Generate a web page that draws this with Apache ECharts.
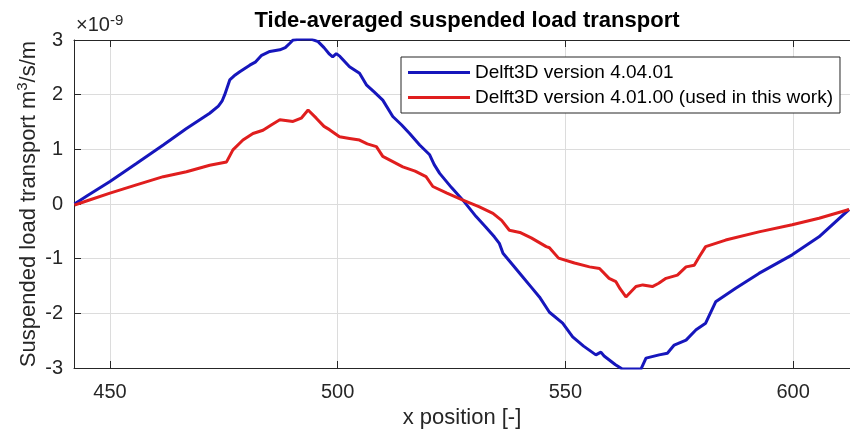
<!DOCTYPE html>
<html>
<head>
<meta charset="utf-8">
<script src="https://cdn.jsdelivr.net/npm/echarts@6/dist/echarts.min.js"></script>
<style>
  html, body { margin: 0; padding: 0; background: #ffffff; }
  #chart { width: 850px; height: 434px; }
</style>
</head>
<body>
<div id="chart"></div>
<script>
// Tide-averaged suspended load transport (values in units of 1e-9 m^3/s/m)
const seriesNames = ['Delft3D version 4.04.01', 'Delft3D version 4.01.00 (used in this work)'];

// Delft3D 4.04.01
const blueX = [442.2, 445, 450, 455.8, 461.7, 466.8, 471.9, 473.8, 474.6, 475.2, 476.3, 477.5, 478.5, 480.7, 482, 483.3,
  485.1, 487.3, 488.5, 489.5, 490.2, 492, 494, 495.7, 497, 498.2, 498.9, 499.7, 500.5, 502.6, 504.8, 506.3, 508, 509.9,
  512.1, 514, 515.8, 518, 520.2, 521.2, 522.4, 525, 527.5, 530.4, 532.5, 534.4, 535.5, 536.3, 538.5, 540.6, 542.5, 544.3,
  546.5, 549.4, 551.6, 554, 556.7, 557.8, 558.5, 561.0, 562.5, 566.6, 567.7, 570.6, 572.4, 573.9, 576.5, 578.7, 580.8,
  583.0, 587.4, 592.5, 599.8, 605.7, 612.3];
const blueY = [0.0, 0.15, 0.41, 0.74, 1.08, 1.38, 1.66, 1.79, 1.88, 2.0, 2.27, 2.36, 2.42, 2.54, 2.60, 2.72,
  2.79, 2.82, 2.86, 2.94, 3.0, 3.02, 3.02, 2.97, 2.86, 2.74, 2.69, 2.75, 2.70, 2.51, 2.39, 2.18, 2.05, 1.90,
  1.60, 1.45, 1.29, 1.08, 0.90, 0.72, 0.56, 0.30, 0.07, -0.23, -0.42, -0.60, -0.72, -0.90, -1.12, -1.33, -1.52, -1.70,
  -1.98, -2.18, -2.43, -2.60, -2.76, -2.71, -2.78, -2.94, -3.02, -3.02, -2.82, -2.76, -2.73, -2.58, -2.49, -2.30, -2.18,
  -1.79, -1.54, -1.27, -0.93, -0.60, -0.10];

// Delft3D 4.01.00
const redX = [442.2, 445, 450, 455.8, 461.7, 466.8, 471.9, 475.6, 477.0, 479.2, 481.4, 483.6, 485.5, 487.3, 490.2, 492.0,
  493.5, 495.3, 497, 498.2, 500.4, 502.6, 504.8, 506.5, 508.5, 509.9, 512, 514.3, 517, 519.4, 520.9, 524, 527.5, 531,
  534.1, 536, 537.7, 540, 542.5, 545.8, 546.5, 548.5, 552, 555.3, 557.5, 559.6, 561.1, 562, 563.3, 565.5, 567, 569.1,
  570.5, 572.1, 574.6, 576.5, 578.3, 579.5, 580.8, 585.2, 592.5, 599.8, 605.7, 612.3];
const redY = [-0.02, 0.06, 0.20, 0.35, 0.50, 0.59, 0.71, 0.77, 0.99, 1.17, 1.29, 1.35, 1.45, 1.54, 1.51, 1.57,
  1.72, 1.57, 1.42, 1.36, 1.23, 1.20, 1.17, 1.10, 1.05, 0.87, 0.78, 0.68, 0.60, 0.50, 0.32, 0.20, 0.07, -0.05,
  -0.17, -0.30, -0.48, -0.52, -0.62, -0.78, -0.80, -0.99, -1.08, -1.15, -1.18, -1.36, -1.42, -1.55, -1.70, -1.51, -1.48, -1.51,
  -1.45, -1.36, -1.30, -1.15, -1.12, -0.95, -0.78, -0.66, -0.51, -0.38, -0.26, -0.10];

const xMin = 442.1, xMax = 612.5;
const yTicks = [-3, -2, -1, 0, 1, 2, 3];

const pair = (xs, ys) => xs.map((x, i) => [x, ys[i]]);

const ink = '#262626';
const font = '"Liberation Sans", Arial, Helvetica, sans-serif';

const chart = echarts.init(document.getElementById('chart'), null, { renderer: 'canvas' });

chart.setOption({
  animation: false,
  backgroundColor: '#ffffff',
  textStyle: { fontFamily: font, color: ink },
  title: {
    text: 'Tide-averaged suspended load transport',
    left: 462, top: 5, textAlign: 'center',
    textStyle: { fontFamily: font, fontSize: 22, fontWeight: 'bold', color: '#000000' }
  },
  legend: {
    left: 401, top: 57,
    orient: 'vertical',
    icon: 'rect', itemWidth: 62, itemHeight: 3, itemGap: 6,
    padding: [6, 7, 6, 7],
    backgroundColor: '#ffffff', borderColor: ink, borderWidth: 1,
    textStyle: { fontFamily: font, fontSize: 19, color: '#000000' },
    data: seriesNames
  },
  grid: { left: 74, right: 0, top: 40, bottom: 66, containLabel: false },
  xAxis: [{
    type: 'value', min: xMin, max: xMax, splitNumber: 4,
    name: 'x position [-]', nameLocation: 'middle', nameGap: 39, nameMoveOverlap: false,
    nameTextStyle: { fontFamily: font, fontSize: 22, color: ink },
    axisLine: { show: true, onZero: false, lineStyle: { color: ink, width: 1 } },
    axisTick: { show: true, inside: true, length: 7, lineStyle: { color: ink } },
    axisLabel: { showMinLabel: false, showMaxLabel: false, margin: 14, fontFamily: font, fontSize: 20, color: ink },
    splitLine: { show: true, lineStyle: { color: '#dcdcdc', width: 1 } }
  }, {
    type: 'value', position: 'top', min: xMin, max: xMax, splitNumber: 4,
    axisLine: { show: true, onZero: false, lineStyle: { color: ink, width: 1 } },
    axisTick: { show: true, inside: true, length: 7, lineStyle: { color: ink } },
    axisLabel: { show: false },
    splitLine: { show: false }
  }],
  yAxis: {
    type: 'value', min: yTicks[0], max: yTicks[yTicks.length - 1], interval: 1,
    name: 'Suspended load transport m{sup|3}/s/m', nameLocation: 'middle', nameGap: 31, nameMoveOverlap: false,
    nameTextStyle: {
      fontFamily: font, fontSize: 22, color: ink, lineHeight: 28,
      rich: { sup: { fontFamily: font, fontSize: 15, color: ink, verticalAlign: 'top', lineHeight: 15 } }
    },
    axisLine: { show: true, onZero: false, lineStyle: { color: ink, width: 1 } },
    axisTick: { show: true, inside: true, length: 7, lineStyle: { color: ink } },
    axisLabel: { margin: 11, fontFamily: font, fontSize: 20, color: ink },
    splitLine: { show: true, lineStyle: { color: '#dcdcdc', width: 1 } }
  },
  graphic: [{
    type: 'text', left: 76, top: 13,
    style: {
      text: '{a|×10}{b|-9}',
      rich: {
        a: { fontFamily: font, fontSize: 20, lineHeight: 24, fill: ink },
        b: { fontFamily: font, fontSize: 15, lineHeight: 15, verticalAlign: 'top', fill: ink }
      }
    }
  }],
  series: [{
    name: seriesNames[0], type: 'line', data: pair(blueX, blueY),
    showSymbol: false, symbol: 'none', smooth: false, clip: true,
    lineStyle: { color: '#1616bc', width: 3 }, itemStyle: { color: '#1616bc' }
  }, {
    name: seriesNames[1], type: 'line', data: pair(redX, redY),
    showSymbol: false, symbol: 'none', smooth: false, clip: true,
    lineStyle: { color: '#e01e1e', width: 3 }, itemStyle: { color: '#e01e1e' }
  }]
});
</script>
</body>
</html>
